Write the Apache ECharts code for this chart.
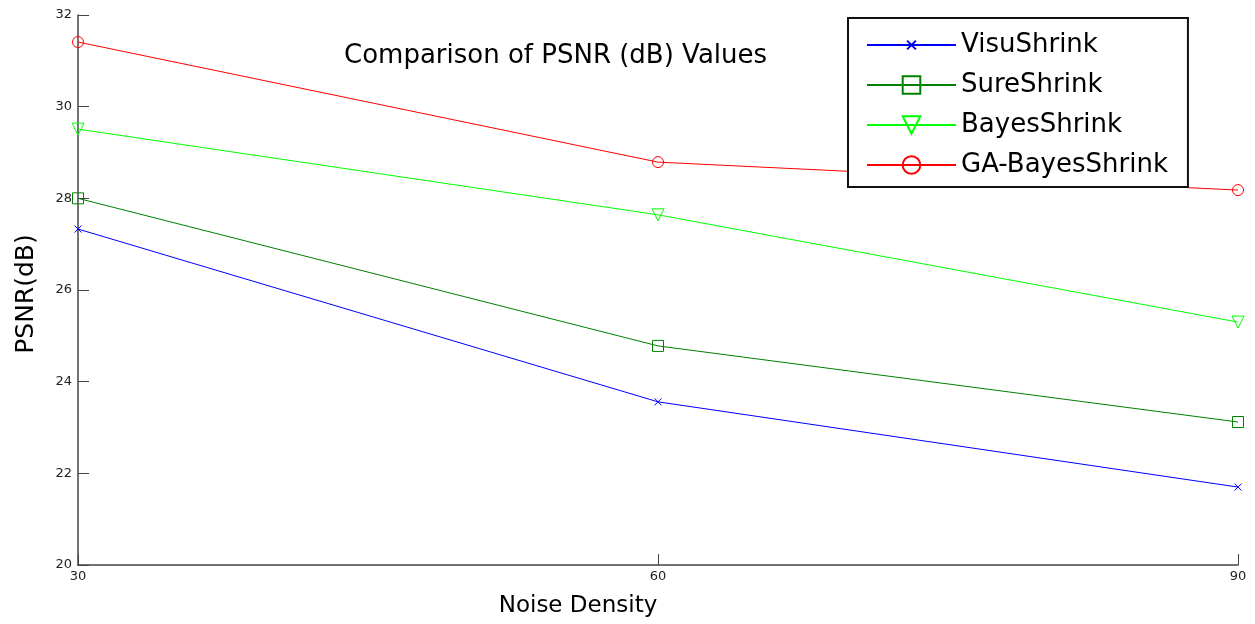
<!DOCTYPE html>
<html>
<head>
<meta charset="utf-8">
<script src="https://cdn.jsdelivr.net/npm/echarts@6/dist/echarts.min.js"></script>
<style>
  html, body { margin: 0; padding: 0; background: #fff; }
  #chart { width: 1255px; height: 624px; }
</style>
</head>
<body>
<div id="chart"></div>
<script>
// Noise density levels on the x axis
const noiseDensity = [30, 60, 90];
const xTicks = [30, 60, 90];
const yTicks = [20, 22, 24, 26, 28, 30, 32];

// PSNR (dB) for each denoising method
const visuShrink = [27.33, 23.56, 21.70];
const sureShrink = [28.00, 24.78, 23.12];
const bayesShrink = [29.51, 27.64, 25.30];
const gaBayesShrink = [31.41, 28.79, 28.18];

const FONT = 'DejaVu Sans';
const AXIS_COLOR = '#444';

// Cross marker padded with empty move-to points so the drawn cross is half the symbol box
const CROSS = 'path://M-10,-10M30,30M0,0L20,20M20,0L0,20';
const DOWN_TRIANGLE = 'path://M0,0L20,0L10,17Z';

function pairs(ys) {
  return noiseDensity.map((x, i) => [x, ys[i]]);
}

function lineSeries(name, values, color, symbol, size) {
  return {
    name: name,
    type: 'line',
    data: pairs(values),
    color: color,
    symbol: symbol,
    symbolSize: size,
    clip: false,
    lineStyle: { color: color, width: 1 },
    itemStyle: { color: 'rgba(0,0,0,0)', borderColor: color, borderWidth: 1 },
    emphasis: { disabled: true },
    animation: false
  };
}

const chart = echarts.init(document.getElementById('chart'), null, { renderer: 'canvas' });

chart.setOption({
  backgroundColor: '#fff',
  animation: false,
  title: {
    text: 'Comparison of PSNR (dB) Values',
    left: 344,
    top: 43,
    padding: 0,
    textStyle: { fontFamily: FONT, fontSize: 26, fontWeight: 'normal', color: '#000' }
  },
  grid: { left: 78, right: 17, top: 15, bottom: 59, containLabel: false },
  legend: {
    orient: 'vertical',
    left: 848,
    top: 18,
    padding: [14, 20, 9, 18],
    itemGap: 14,
    itemWidth: 89,
    itemHeight: 22,
    backgroundColor: '#fff',
    borderColor: '#111',
    borderWidth: 2,
    borderRadius: 0,
    z: 10,
    selectedMode: false,
    textStyle: { fontFamily: FONT, fontSize: 26, color: '#000' },
    data: ['VisuShrink', 'SureShrink', 'BayesShrink', 'GA-BayesShrink']
  },
  xAxis: {
    type: 'value',
    min: xTicks[0],
    max: xTicks[xTicks.length - 1],
    interval: 30,
    name: 'Noise Density',
    nameLocation: 'middle',
    nameGap: 30,
    nameTextStyle: { fontFamily: FONT, fontSize: 23, color: '#000', padding: [0, 160, 0, 0] },
    axisLine: { lineStyle: { color: AXIS_COLOR, width: 1.5 } },
    axisTick: { inside: true, length: 11, lineStyle: { color: AXIS_COLOR } },
    axisLabel: { fontFamily: FONT, fontSize: 13, color: '#222', margin: 5 },
    splitLine: { show: false }
  },
  yAxis: {
    type: 'value',
    min: yTicks[0],
    max: yTicks[yTicks.length - 1],
    interval: 2,
    name: 'PSNR(dB)',
    nameLocation: 'middle',
    nameGap: 39,
    nameTextStyle: { fontFamily: FONT, fontSize: 25, color: '#000', padding: [0, 8, 0, 0] },
    axisLine: { show: true, lineStyle: { color: AXIS_COLOR, width: 1.5 } },
    axisTick: { show: true, inside: true, length: 11, lineStyle: { color: AXIS_COLOR } },
    axisLabel: { fontFamily: FONT, fontSize: 13, color: '#222', margin: 6 },
    splitLine: { show: false }
  },
  series: [
    lineSeries('VisuShrink', visuShrink, '#0000ff', CROSS, 14),
    lineSeries('SureShrink', sureShrink, '#008000', 'rect', 11),
    lineSeries('BayesShrink', bayesShrink, '#00ff00', DOWN_TRIANGLE, 12),
    lineSeries('GA-BayesShrink', gaBayesShrink, '#ff0000', 'circle', 11)
  ]
});
</script>
</body>
</html>
